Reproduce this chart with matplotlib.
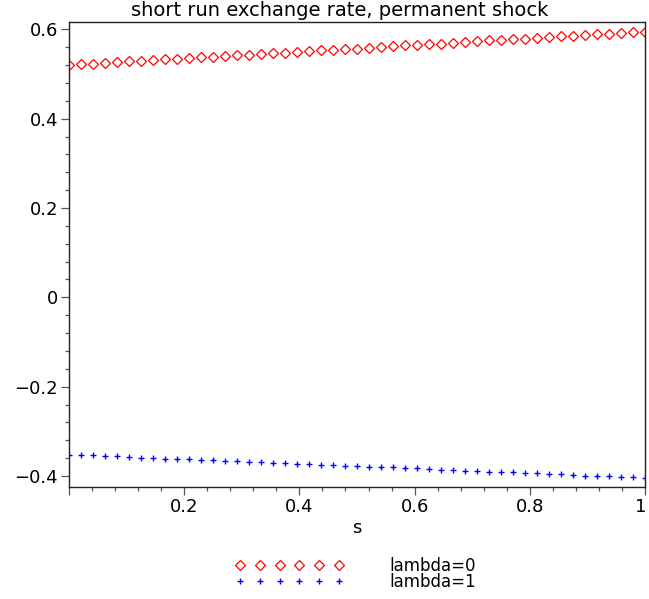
import matplotlib
matplotlib.use('Agg')
import matplotlib.pyplot as plt
from matplotlib.ticker import MultipleLocator, FuncFormatter

plt.rcParams['font.family'] = ['DejaVu Sans']

# === DATA
s = [0, .0208, .0417, .0625, .0833, .1042, .125, .1458, .1667, .1875,
     .2083, .2292, .25, .2708, .2917, .3125, .3333, .3542, .375, .3958,
     .4167, .4375, .4583, .4792, .5, .5208, .5417, .5625, .5833, .6042,
     .625, .6458, .6667, .6875, .7083, .7292, .75, .7708, .7917, .8125,
     .8333, .8542, .875, .8958, .9167, .9375, .9583, .9792, 1.0]

rate_lambda0 = [0.520, 0.522, 0.523, 0.525, 0.526, 0.528, 0.529, 0.531, 0.533, 0.534,
                0.536, 0.537, 0.539, 0.540, 0.542, 0.543, 0.545, 0.547, 0.548, 0.550,
                0.551, 0.553, 0.554, 0.556, 0.557, 0.559, 0.561, 0.562, 0.564, 0.565,
                0.567, 0.568, 0.570, 0.572, 0.573, 0.575, 0.576, 0.578, 0.579, 0.581,
                0.582, 0.584, 0.586, 0.587, 0.589, 0.590, 0.592, 0.593, 0.595]

rate_lambda1 = [-0.352, -0.353, -0.354, -0.355, -0.356, -0.357, -0.359, -0.360, -0.361, -0.362,
                -0.363, -0.364, -0.365, -0.366, -0.367, -0.368, -0.369, -0.370, -0.372, -0.373,
                -0.374, -0.375, -0.376, -0.377, -0.378, -0.379, -0.380, -0.381, -0.382, -0.383,
                -0.385, -0.386, -0.387, -0.388, -0.389, -0.390, -0.391, -0.392, -0.393, -0.394,
                -0.395, -0.396, -0.398, -0.399, -0.400, -0.401, -0.402, -0.403, -0.404]

labels = ['lambda=0', 'lambda=1']

# === PLOT
fig = plt.figure(figsize=(6.49, 5.99), dpi=100)
ax = fig.add_axes([69/649, 1 - 486.7/599, (645 - 69)/649, (486.7 - 22)/599])

ax.plot(s, rate_lambda0, linestyle='none', marker='D', ms=5.0, mfc='none',
        mec='red', mew=0.9, label=labels[0])
ax.plot(s, rate_lambda1, linestyle='none', marker='+', ms=4.5,
        color='blue', mew=1.0, label=labels[1])

ax.set_xlim(0.0, 1.0)
ax.set_ylim(-0.424, 0.6164)

ax.xaxis.set_major_locator(MultipleLocator(0.2))
ax.xaxis.set_minor_locator(MultipleLocator(0.04))
ax.yaxis.set_major_locator(MultipleLocator(0.2))
ax.yaxis.set_minor_locator(MultipleLocator(0.04))

def fmt(v, pos):
    if abs(v) < 1e-9:
        return '0'
    if abs(v - round(v)) < 1e-9:
        return '%d' % round(v)
    return ('%.1f' % v).replace('-', '\u2212')

# x labels: no "0" at the corner, and the "1" is drawn by hand so it stays inside
def fmt_x(v, pos):
    if abs(v) < 1e-9 or abs(v - 1) < 1e-9:
        return ''
    return fmt(v, pos)

ax.xaxis.set_major_formatter(FuncFormatter(fmt_x))
ax.yaxis.set_major_formatter(FuncFormatter(fmt))

ax.tick_params(which='both', direction='out', color='#555555', labelsize=13,
               top=False, right=False)
ax.tick_params(which='major', length=6, width=0.9, pad=2)
ax.tick_params(which='minor', length=3, width=0.9)

ax.annotate('1', xy=(1.0, 0), xycoords=('data', 'axes fraction'),
            xytext=(-3, -8), textcoords='offset points',
            ha='center', va='top', fontsize=13)

for sp in ax.spines.values():
    sp.set_color('#222222')
    sp.set_linewidth(1.0)

fig.text(340/649, 1 - 11/599, 'short run exchange rate, permanent shock',
         ha='center', va='center', fontsize=14)
fig.text(357/649, 1 - 528/599, 's', ha='center', va='center', fontsize=13)

fig.legend(loc='center left', bbox_to_anchor=(227/649, 1 - 574/599),
           frameon=False, numpoints=6, handlelength=6.5, handletextpad=2.75,
           labelspacing=-0.1, borderpad=0, fontsize=12)

fig.savefig('out.png', dpi=100)
